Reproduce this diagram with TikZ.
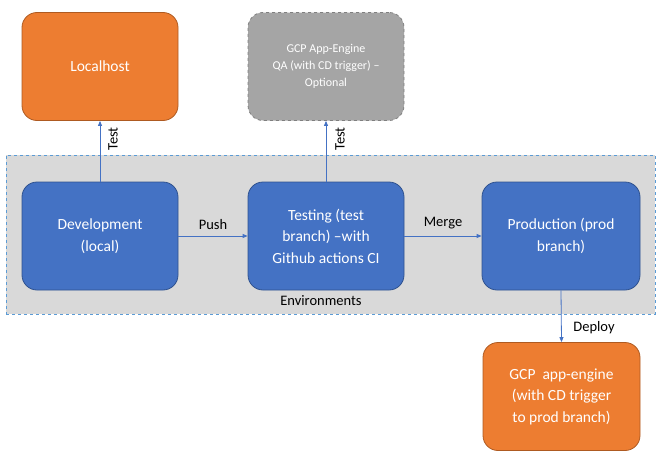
\documentclass[tikz,border=0pt]{standalone}
\usepackage{fontspec}
\setmainfont{Carlito}
\usetikzlibrary{arrows.meta,positioning}
\definecolor{bluefill}{HTML}{4472C4}
\definecolor{blueborder}{HTML}{2F528F}
\definecolor{orfill}{HTML}{ED7D31}
\definecolor{orborder}{HTML}{AE5A21}
\definecolor{grfill}{HTML}{A5A5A5}
\definecolor{grborder}{HTML}{7F7F7F}
\definecolor{envfill}{HTML}{D9D9D9}
\definecolor{envborder}{HTML}{5B9BD5}
\tikzset{
  box/.style={rounded corners=15pt, minimum width=156pt, minimum height=108pt, align=center, text=white, font=\fontsize{15.5}{21.5}\selectfont, line width=0.8pt, inner sep=2pt},
  bluebox/.style={box, fill=bluefill, draw=blueborder},
  orbox/.style={box, fill=orfill, draw=orborder},
  grbox/.style={box, fill=grfill, draw=grborder, dashed, font=\fontsize{12}{17}\selectfont},
  conn/.style={draw=bluefill, line width=0.8pt, -{Triangle[length=5pt,width=4pt]}},
  lbl/.style={font=\fontsize{14.5}{17}\selectfont, text=black}
}
\begin{document}
\begin{tikzpicture}[x=1pt,y=-1pt]
\useasboundingbox (0,0) rectangle (663,455);
\node[draw=envborder, dashed, fill=envfill, line width=0.6pt, minimum width=649pt, minimum height=159pt, inner sep=0pt] (env) at (330.5,234.5) {};
\node[lbl] (envlbl) at (321,301) {Environments};
\node[orbox] (local) at (100,66.5) {Localhost};
\node[grbox] (qa) at (326,66.5) {GCP App-Engine\\QA (with CD trigger) --\\Optional};
\node[bluebox] (dev) at (100,236) {Development\\(local)};
\node[bluebox] (test) at (326,236) {Testing (test\\branch) --with\\Github actions CI};
\node[bluebox, minimum width=158pt] (prod) at (561,236) {Production (prod\\branch)};
\node[orbox, minimum width=157pt] (gcp) at (561.5,396.5) {GCP\ \ app-engine\\(with CD trigger\\to prod branch)};
\draw[conn] (dev) -- node[lbl, above=3pt] {Push} (test);
\draw[conn] (test) -- node[lbl, above=3pt] {Merge} (prod);
\draw[conn] (dev.north) -- (local.south);
\draw[conn] (test.north) -- (qa.south);
\node[lbl, rotate=90] (t1) at (113,139) {Test};
\node[lbl, rotate=90] (t2) at (340,139) {Test};
\draw[conn] (prod.south) -- (gcp.north);
\node[lbl] (dep) at (594,328) {Deploy};
\end{tikzpicture}
\end{document}
